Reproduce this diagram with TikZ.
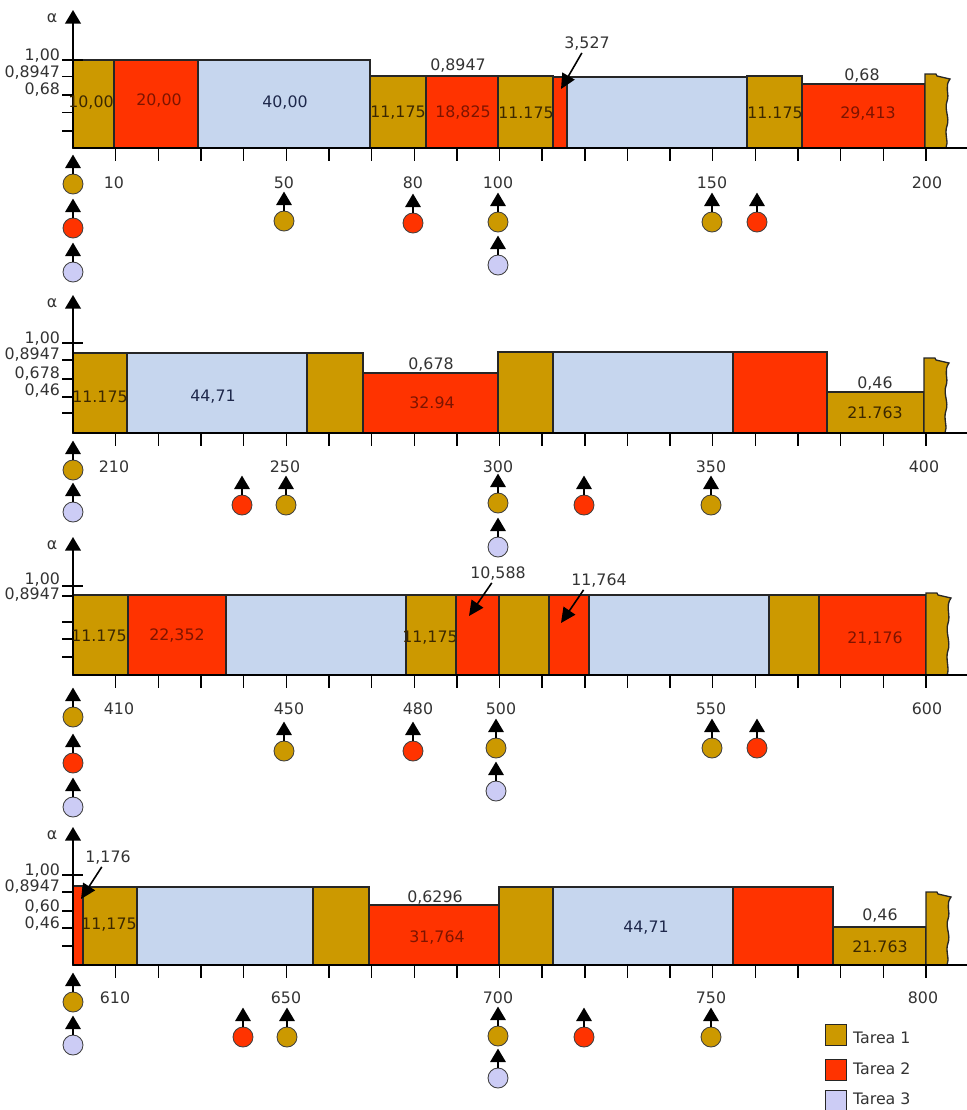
\documentclass[tikz,border=0pt]{standalone}
\usepackage{fontspec}
\setmainfont{DejaVu Sans}
\usetikzlibrary{arrows.meta,calc}

\begin{document}
\begin{tikzpicture}[x=0.02cm,y=-0.02cm,font=\fontsize{9}{10.5}\selectfont,
  bloque/.style={draw=black!85,line width=0.75pt},
  evento/.style={circle,draw=black!75,line width=0.5pt,inner sep=0pt,minimum size=4mm},
  flecha/.style={line width=1pt,-{Triangle[length=2.7mm,width=3.1mm]}},
  aviso/.style={line width=0.9pt,-{Triangle[length=3mm,width=2.8mm]}},
  rotulo/.style={text=gris,inner sep=1pt},
  n1/.style={text=txt1,inner sep=1pt},
  n2/.style={text=txt2,inner sep=1pt},
  n3/.style={text=txt3,inner sep=1pt}]
% ------------------------------------------------ colores de las tareas
\definecolor{tarea1}{RGB}{204,153,0}   %#CC9900
\definecolor{tarea2}{RGB}{255,51,0}    %#FF3300
\definecolor{tarea3}{RGB}{198,214,238} %#C6D6EE
\definecolor{lila}{RGB}{204,204,245}   %#CCCCF5
\definecolor{gris}{RGB}{51,51,51}
\definecolor{txt1}{RGB}{60,40,0}
\definecolor{txt2}{RGB}{125,20,0}
\definecolor{txt3}{RGB}{30,40,75}

\useasboundingbox (0,0) rectangle (967,1110);

% bloque de ejecucion: color, inicio, fin, altura (usa \base)
\newcommand{\caja}[4]{
\filldraw[bloque,fill=#1] (#2,\base) rectangle (#3,#4);
}
% bloque cortado al final de cada fila
\newcommand{\corte}[2]{
\pgfmathsetmacro{\ya}{#2+5}
\pgfmathsetmacro{\yb}{#2+0.37*(\base-#2)}
\pgfmathsetmacro{\yc}{#2+0.7*(\base-#2)}
\filldraw[bloque,fill=tarea1] (#1,\base) -- (#1,#2) -- (#1+11,#2) -- (#1+12,#2+2) -- (#1+25,\ya)
  .. controls (#1+19,\ya+8) and (#1+25,\yb-8) .. (#1+22,\yb)
  .. controls (#1+19,\yb+8) and (#1+25,\yc-8) .. (#1+22,\yc)
  .. controls (#1+19,\yc+8) and (#1+24,\base-6) .. (#1+21,\base) -- cycle;
}
% ejes de cada fila: nombre (usa \base)
\newcommand{\ejes}[1]{
\coordinate (o#1) at (73,\base);
\coordinate (a#1) at (73,\base-138);
\coordinate (e#1) at (967,\base);
\draw[flecha,line width=1.1pt] (o#1) -- (a#1);
\node[rotulo] (alfa#1) at (52,\base-130) {α};
\draw[line width=1.1pt] (o#1) -- (e#1);
\foreach \k in {1,...,20} \draw[line width=0.8pt] (73+42.65*\k,\base) -- ++(0,13);
}
% marcas del eje alfa: marca larga, lista de marcas cortas
\newcommand{\marcas}[2]{
\draw[line width=0.8pt] (62,#1) -- (83,#1);
\foreach \yy in {#2} \draw[line width=0.8pt] (62,\yy) -- (73,\yy);
}
% llegada de una tarea: nombre, color, x, y
\newcommand{\llegada}[4]{
\node[evento,fill=#2] (#1) at (#3,#4) {};
\coordinate (#1p) at ($(#1.north)+(0,-19)$);
\draw[flecha] (#1.north) -- (#1p);
}

% ------------------------------------------------ fila 1: 0 .. 200
\def\base{148}
\caja{tarea1}{73}{114}{60}
\caja{tarea2}{114}{198}{60}
\caja{tarea3}{198}{370}{60}
\caja{tarea1}{370}{426}{76}
\caja{tarea2}{426}{498}{76}
\caja{tarea1}{498}{553}{76}
\caja{tarea2}{553}{567}{77}
\caja{tarea3}{567}{747}{77}
\caja{tarea1}{747}{802}{76}
\caja{tarea2}{802}{925}{84}
\corte{925}{74}
\ejes{1}
\marcas{60}{76.7,95,112.7,131}
\node[rotulo,anchor=east] (ya1) at (62,56) {1,00};
\node[rotulo,anchor=east] (yb1) at (62,73) {0,8947};
\node[rotulo,anchor=east] (yc1) at (62,90) {0,68};

\node[n1] (c1a) at (91,103) {10,00};
\node[n2] (c1b) at (159,101) {20,00};
\node[n3] (c1c) at (285,103) {40,00};
\node[n1] (c1d) at (398,113) {11,175};
\node[n2] (c1e) at (463,113) {18,825};
\node[rotulo] (h1e) at (458,66) {0,8947};
\node[n1] (c1f) at (526,113) {11.175};
\node[n1] (c1g) at (775,113) {11.175};
\node[n2] (c1h) at (868,114) {29,413};
\node[rotulo] (h1h) at (862,76) {0,68};
\node[rotulo] (m1) at (587,44) {3,527};
\coordinate (m1p) at (561,89);
\draw[aviso] (m1.240) -- (m1p);

\node[rotulo] (t1a) at (114,183) {10};
\node[rotulo] (t1b) at (284,183) {50};
\node[rotulo] (t1c) at (413,183) {80};
\node[rotulo] (t1d) at (498,183) {100};
\node[rotulo] (t1e) at (712,183) {150};
\node[rotulo] (t1f) at (927,183) {200};

\llegada{l1a}{tarea1}{73}{184}
\llegada{l1b}{tarea2}{73}{228}
\llegada{l1c}{lila}{73}{272}
\llegada{l1d}{tarea1}{284}{221}
\llegada{l1e}{tarea2}{413}{223}
\llegada{l1f}{tarea1}{498}{222}
\llegada{l1g}{lila}{498}{265}
\llegada{l1h}{tarea1}{712}{222}
\llegada{l1i}{tarea2}{757}{222}

% ------------------------------------------------ fila 2: 200 .. 400
\def\base{433}
\caja{tarea1}{73}{127}{353}
\caja{tarea3}{127}{307}{353}
\caja{tarea1}{307}{363}{353}
\caja{tarea2}{363}{498}{373}
\caja{tarea1}{498}{553}{352}
\caja{tarea3}{553}{733}{352}
\caja{tarea2}{733}{827}{352}
\caja{tarea1}{827}{924}{392}
\corte{924}{358}
\ejes{2}
\marcas{343}{360,379,397,413}
\node[rotulo,anchor=east] (ya2) at (62,339) {1,00};
\node[rotulo,anchor=east] (yb2) at (62,355) {0,8947};
\node[rotulo,anchor=east] (yc2) at (62,374) {0,678};
\node[rotulo,anchor=east] (yd2) at (62,391) {0,46};

\node[n1] (c2a) at (100,397) {11.175};
\node[n3] (c2b) at (213,397) {44,71};
\node[n2] (c2c) at (432,403) {32.94};
\node[rotulo] (h2c) at (431,365) {0,678};
\node[n1] (c2d) at (875,413) {21.763};
\node[rotulo] (h2d) at (875,384) {0,46};

\node[rotulo] (t2a) at (114,467) {210};
\node[rotulo] (t2b) at (285,467) {250};
\node[rotulo] (t2c) at (498,467) {300};
\node[rotulo] (t2d) at (711,467) {350};
\node[rotulo] (t2e) at (924,467) {400};

\llegada{l2a}{tarea1}{73}{470}
\llegada{l2b}{lila}{73}{512}
\llegada{l2c}{tarea2}{242}{505}
\llegada{l2d}{tarea1}{286}{505}
\llegada{l2e}{tarea1}{498}{503}
\llegada{l2f}{lila}{498}{547}
\llegada{l2g}{tarea2}{584}{505}
\llegada{l2h}{tarea1}{711}{505}

% ------------------------------------------------ fila 3: 400 .. 600
\def\base{675}
\caja{tarea1}{73}{128}{595}
\caja{tarea2}{128}{226}{595}
\caja{tarea3}{226}{406}{595}
\caja{tarea1}{406}{456}{595}
\caja{tarea2}{456}{499}{595}
\caja{tarea1}{499}{549}{595}
\caja{tarea2}{549}{589}{595}
\caja{tarea3}{589}{769}{595}
\caja{tarea1}{769}{819}{595}
\caja{tarea2}{819}{926}{595}
\corte{926}{593}
\ejes{3}
\marcas{586}{596,622,639,657}
\node[rotulo,anchor=east] (ya3) at (62,580) {1,00};
\node[rotulo,anchor=east] (yb3) at (62,595) {0,8947};

\node[n1] (c3a) at (99,636) {11.175};
\node[n2] (c3b) at (177,636) {22,352};
\node[n1] (c3c) at (430,638) {11,175};
\node[n2] (c3d) at (875,639) {21,176};
\node[rotulo] (m3a) at (498,574) {10,588};
\coordinate (m3ap) at (469,616);
\draw[aviso] (m3a.235) -- (m3ap);
\node[rotulo] (m3b) at (599,581) {11,764};
\coordinate (m3bp) at (561,623);
\draw[aviso] (m3b.210) -- (m3bp);

\node[rotulo] (t3a) at (119,709) {410};
\node[rotulo] (t3b) at (289,709) {450};
\node[rotulo] (t3c) at (418,709) {480};
\node[rotulo] (t3d) at (501,709) {500};
\node[rotulo] (t3e) at (711,709) {550};
\node[rotulo] (t3f) at (927,709) {600};

\llegada{l3a}{tarea1}{73}{717}
\llegada{l3b}{tarea2}{73}{763}
\llegada{l3c}{lila}{73}{807}
\llegada{l3d}{tarea1}{284}{751}
\llegada{l3e}{tarea2}{413}{751}
\llegada{l3f}{tarea1}{496}{748}
\llegada{l3g}{lila}{496}{791}
\llegada{l3h}{tarea1}{712}{748}
\llegada{l3i}{tarea2}{757}{748}

% ------------------------------------------------ fila 4: 600 .. 800
\def\base{965}
\caja{tarea2}{73}{83}{886}
\caja{tarea1}{83}{137}{887}
\caja{tarea3}{137}{313}{887}
\caja{tarea1}{313}{369}{887}
\caja{tarea2}{369}{499}{905}
\caja{tarea1}{499}{553}{887}
\caja{tarea3}{553}{733}{887}
\caja{tarea2}{733}{833}{887}
\caja{tarea1}{833}{926}{927}
\corte{926}{892}
\ejes{4}
\marcas{875}{892,911,928,946}
\node[rotulo,anchor=east] (ya4) at (62,871) {1,00};
\node[rotulo,anchor=east] (yb4) at (62,887) {0,8947};
\node[rotulo,anchor=east] (yc4) at (62,907) {0,60};
\node[rotulo,anchor=east] (yd4) at (62,924) {0,46};

\node[n1] (c4a) at (109,925) {11,175};
\node[n2] (c4b) at (437,938) {31,764};
\node[rotulo] (h4b) at (435,898) {0,6296};
\node[n3] (c4c) at (646,928) {44,71};
\node[n1] (c4d) at (880,947) {21.763};
\node[rotulo] (h4d) at (880,916) {0,46};
\node[rotulo] (m4) at (108,858) {1,176};
\coordinate (m4p) at (81,899);
\draw[aviso] (m4.235) -- (m4p);

\node[rotulo] (t4a) at (115,998) {610};
\node[rotulo] (t4b) at (286,998) {650};
\node[rotulo] (t4c) at (498,998) {700};
\node[rotulo] (t4d) at (711,998) {750};
\node[rotulo] (t4e) at (923,998) {800};

\llegada{l4a}{tarea1}{73}{1002}
\llegada{l4b}{lila}{73}{1045}
\llegada{l4c}{tarea2}{243}{1037}
\llegada{l4d}{tarea1}{287}{1037}
\llegada{l4e}{tarea1}{498}{1036}
\llegada{l4f}{lila}{498}{1078}
\llegada{l4g}{tarea2}{584}{1037}
\llegada{l4h}{tarea1}{711}{1037}

% ------------------------------------------------ leyenda
\foreach \i/\c/\yy/\yt in {1/tarea1/1035/1038, 2/tarea2/1070/1069, 3/lila/1101/1099}{
  \node[bloque,fill=\c,minimum size=4.2mm,inner sep=0pt] (cl\i) at (836,\yy) {};
  \node[rotulo,anchor=west] (tl\i) at (851,\yt) {Tarea \i};
}

\end{tikzpicture}
\end{document}
